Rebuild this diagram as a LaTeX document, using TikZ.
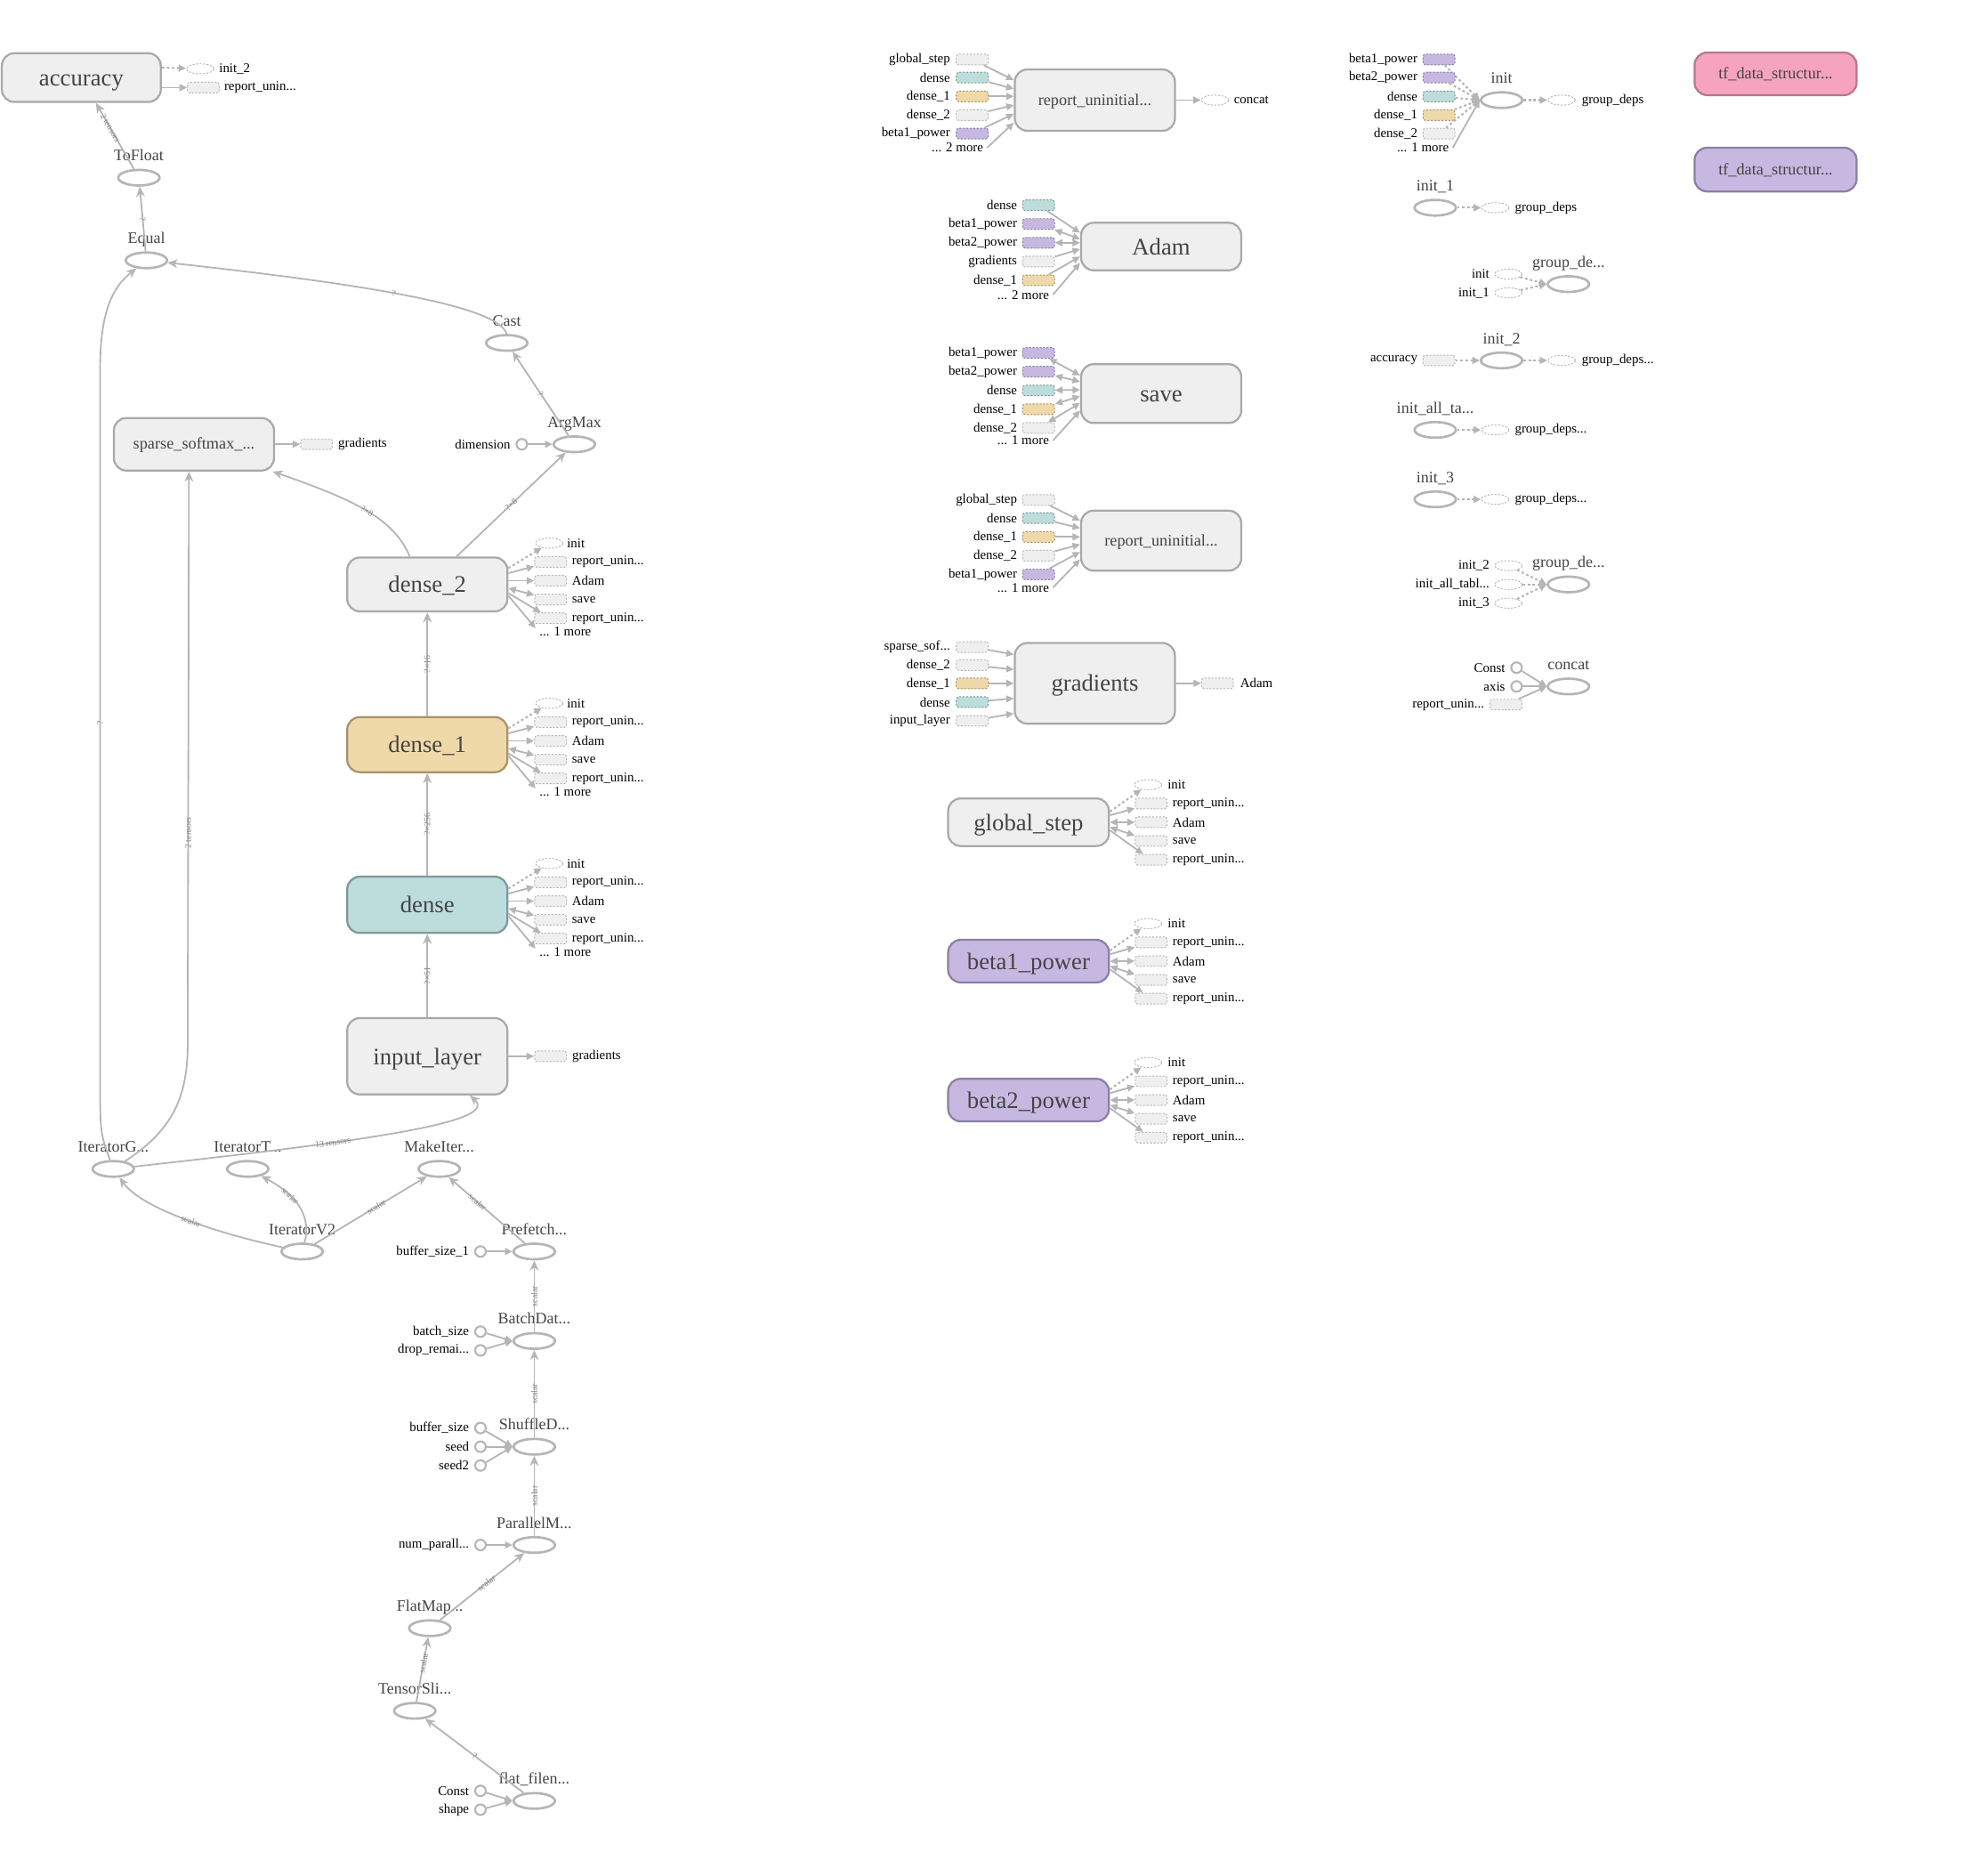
\documentclass[tikz,border=0pt]{standalone}
\usepackage{fontspec}
\setmainfont{Liberation Serif}
\usetikzlibrary{positioning,shapes.geometric,arrows.meta}

\definecolor{edgegrey}{HTML}{B5B5B5}
\definecolor{boxline}{HTML}{A9A9A9}
\definecolor{boxfill}{HTML}{EFEFEF}
\definecolor{labgrey}{HTML}{444444}
\definecolor{elabgrey}{HTML}{808080}
\definecolor{stubline}{HTML}{B9B9B9}
\definecolor{tealfill}{HTML}{BDDCDC}
\definecolor{tealline}{HTML}{7E9999}
\definecolor{tanfill}{HTML}{F0D9A9}
\definecolor{tanline}{HTML}{A7936D}
\definecolor{purpfill}{HTML}{C6B8E1}
\definecolor{purpline}{HTML}{8B80A3}
\definecolor{pinkfill}{HTML}{F5A3BE}
\definecolor{pinkline}{HTML}{B47A8C}

\newcommand{\threedots}{...}

\tikzset{
  bigbox/.style={draw=boxline, fill=boxfill, line width=1.6pt, rounded corners=10pt,
    minimum width=128pt, minimum height=42pt, inner sep=0pt, text=labgrey,
    font=\fontsize{19}{22}\selectfont, text height=17pt, text depth=4pt},
  midbox/.style={bigbox, font=\fontsize{13}{15}\selectfont, text height=11pt, text depth=3pt},
  opnode/.style={ellipse, draw=edgegrey, line width=1.9pt, fill=white,
    minimum width=33pt, minimum height=12.5pt, inner sep=0pt},
  oplab/.style={text=labgrey, font=\fontsize{12.8}{14}\selectfont,
    text height=9pt, text depth=3pt, inner sep=1pt},
  cnode/.style={circle, draw=edgegrey, line width=1.5pt, fill=white,
    minimum size=8.5pt, inner sep=0pt},
  gstub/.style={draw=stubline, fill=boxfill, dash pattern=on 1.6pt off 1.2pt,
    line width=0.7pt, rounded corners=2pt, minimum width=25.5pt,
    minimum height=8.5pt, inner sep=0pt},
  tstub/.style={gstub, draw=tealline, fill=tealfill},
  ystub/.style={gstub, draw=tanline, fill=tanfill},
  pstub/.style={gstub, draw=purpline, fill=purpfill},
  estub/.style={ellipse, draw=stubline, dash pattern=on 1.6pt off 1.2pt,
    line width=0.7pt, fill=white, minimum width=22pt, minimum height=8pt, inner sep=0pt},
  smlab/.style={font=\fontsize{10.6}{12}\selectfont, inner sep=0pt},
  morelab/.style={smlab, inner xsep=3pt},
  elab/.style={font=\fontsize{7}{8}\selectfont, text=elabgrey, inner sep=0.5pt, sloped},
  flow/.style={draw=edgegrey, line width=1.3pt, -{Stealth[length=8pt,width=7pt,inset=2.5pt]}},
  stubarr/.style={draw=edgegrey, line width=1.3pt, -{Triangle[length=6pt,width=5.5pt]}},
  botharr/.style={draw=edgegrey, line width=1.3pt,
    {Triangle[length=6pt,width=5.5pt]}-{Triangle[length=6pt,width=5.5pt]}},
  ctrlarr/.style={stubarr, dash pattern=on 2pt off 2pt, line width=1.5pt}
}

\begin{document}
\begin{tikzpicture}[x=1pt, y=-1pt]
\useasboundingbox (0,0) rectangle (1568,1499);

% accuracy branch
\node[bigbox, minimum width=127pt, minimum height=39pt] (accuracy) at (65,62) {accuracy};
\node[estub] (acc-init) at (160,55) {};
\node[smlab, anchor=west] (acc-initlab) at (175,55) {init\_2};
\node[gstub] (acc-rep) at (162.5,70) {};
\node[smlab, anchor=west] (acc-replab) at (179,70) {report\_unin...};
\draw[ctrlarr] ([yshift=8]accuracy.east) -- (acc-init);
\draw[stubarr] ([yshift=-8]accuracy.east) -- (acc-rep);

\node[opnode] (tofloat) at (111,142) {};
\node[oplab, above=2pt of tofloat] (tofloatlab) {ToFloat};
\node[opnode] (equal) at (117,208) {};
\node[oplab, above=2pt of equal] (equallab) {Equal};
\node[opnode] (cast) at (405,274) {};
\node[oplab, above=2pt of cast] (castlab) {Cast};
\node[opnode] (argmax) at (459,355) {};
\node[oplab, above=2pt of argmax] (argmaxlab) {ArgMax};
\node[cnode] (dimension) at (417,355) {};
\node[smlab, left=4pt of dimension] (dimensionlab) {dimension};

\node[midbox] (sparse) at (155,355) {sparse\_softmax\_...};
\node[gstub] (sparse-grad) at (253,355) {};
\node[smlab, right=4pt of sparse-grad] (sparse-gradlab) {gradients};

% layers
\node[bigbox, minimum height=43pt] (dtwo) at (341.5,467) {dense\_2};
\node[bigbox, draw=tanline, fill=tanfill, minimum height=44pt] (done) at (341.5,595) {dense\_1};
\node[bigbox, draw=tealline, fill=tealfill, minimum height=45pt] (dzero) at (341.5,723) {dense};
\node[bigbox, minimum height=61pt] (input) at (341.5,844) {input\_layer};
\node[gstub] (input-grad) at (440,844) {};
\node[smlab, right=4pt of input-grad] (input-gradlab) {gradients};

\foreach \v/\y in {dtwo/467, done/595, dzero/723}{
  \node[estub] (\v-init) at (439,\y-33) {};
  \node[smlab, anchor=west] (\v-initlab) at (453,\y-33) {init};
  \node[gstub] (\v-repa) at (440,\y-18) {};
  \node[smlab, anchor=west] (\v-repalab) at (457,\y-18) {report\_unin\threedots};
  \node[gstub] (\v-adam) at (440,\y-3) {};
  \node[smlab, anchor=west] (\v-adamlab) at (457,\y-3) {Adam};
  \node[gstub] (\v-save) at (440,\y+12) {};
  \node[smlab, anchor=west] (\v-savelab) at (457,\y+12) {save};
  \node[gstub] (\v-repb) at (440,\y+27) {};
  \node[smlab, anchor=west] (\v-repblab) at (457,\y+27) {report\_unin\threedots};
  \node[morelab, anchor=west] (\v-more) at (428,\y+38) {\threedots{} 1 more};
  \draw[ctrlarr] ([yshift=13]\v.east) -- (\v-init);
  \draw[stubarr] ([yshift=9]\v.east) -- (\v-repa);
  \draw[stubarr] ([yshift=3]\v.east) -- (\v-adam);
  \draw[botharr] ([yshift=-3]\v.east) -- (\v-save);
  \draw[stubarr] ([yshift=-7]\v.east) -- (\v-repb);
  \draw[stubarr] ([yshift=-9]\v.east) -- ([yshift=3]\v-more.west);
}

\draw[flow] (tofloat) -- node[elab, pos=0.62] {2 tensors} (accuracy);
\draw[flow] (equal) -- node[elab] {?} (tofloat);
\draw[flow] (cast.north) .. controls (398,245) and (300,228) .. node[elab, pos=0.55] {?} (equal);
\draw[flow] (argmax) -- node[elab] {?} (cast);
\draw[stubarr] (dimension) -- (argmax);
\draw[flow] (dtwo) -- node[elab] {?×8} (argmax);
\draw[flow] ([xshift=-14]dtwo.north) .. controls (315,415) and (285,400) .. node[elab] {?×8} (sparse);
\draw[flow] (done) -- node[elab] {?×16} (dtwo);
\draw[flow] (dzero) -- node[elab] {?×256} (done);
\draw[flow] (input) -- node[elab] {?×51} (dzero);
\draw[stubarr] (sparse) -- (sparse-grad);
\draw[stubarr] (input) -- (input-grad);

% input pipeline
\node[opnode] (itget) at (90.5,934) {};
\node[oplab, above=2pt of itget] (itgetlab) {IteratorG...};
\node[opnode] (itto) at (198,934) {};
\node[oplab, above=2pt of itto] (ittolab) {IteratorT...};
\node[opnode] (makeit) at (351,934) {};
\node[oplab, above=2pt of makeit] (makeitlab) {MakeIter...};
\node[opnode] (itvtwo) at (241.5,1000) {};
\node[oplab, above=2pt of itvtwo] (itvtwolab) {IteratorV2};
\node[opnode] (prefetch) at (427,1000) {};
\node[oplab, above=2pt of prefetch] (prefetchlab) {Prefetch...};
\node[cnode] (bufone) at (384,1000) {};
\node[smlab, left=4pt of bufone] (bufonelab) {buffer\_size\_1};
\node[opnode] (batch) at (427,1071.5) {};
\node[oplab, above=2pt of batch] (batchlab) {BatchDat...};
\node[cnode] (batchsize) at (384,1064) {};
\node[smlab, left=4pt of batchsize] (batchsizelab) {batch\_size};
\node[cnode] (dropr) at (384,1079) {};
\node[smlab, left=4pt of dropr] (droprlab) {drop\_remai...};
\node[opnode] (shuffle) at (427,1156) {};
\node[oplab, above=2pt of shuffle] (shufflelab) {ShuffleD...};
\node[cnode] (bufsize) at (384,1141) {};
\node[smlab, left=4pt of bufsize] (bufsizelab) {buffer\_size};
\node[cnode] (seed) at (384,1156) {};
\node[smlab, left=4pt of seed] (seedlab) {seed};
\node[cnode] (seedtwo) at (384,1171) {};
\node[smlab, left=4pt of seedtwo] (seedtwolab) {seed2};
\node[opnode] (parallel) at (427,1234.5) {};
\node[oplab, above=2pt of parallel] (parallellab) {ParallelM...};
\node[cnode] (numpar) at (384,1234.5) {};
\node[smlab, left=4pt of numpar] (numparlab) {num\_parall...};
\node[opnode] (flatmap) at (343.5,1301) {};
\node[oplab, above=2pt of flatmap] (flatmaplab) {FlatMap...};
\node[opnode] (tslice) at (331.5,1367) {};
\node[oplab, above=2pt of tslice] (tslicelab) {TensorSli...};
\node[opnode] (flatfile) at (427,1439) {};
\node[oplab, above=2pt of flatfile] (flatfilelab) {flat\_filen...};
\node[cnode] (fconst) at (384,1431) {};
\node[smlab, left=4pt of fconst] (fconstlab) {Const};
\node[cnode] (fshape) at (384,1446) {};
\node[smlab, left=4pt of fshape] (fshapelab) {shape};

\draw[flow] (itget) .. controls (80,905) .. (80,860) -- node[elab] {?} (80,295) .. controls (80,245) and (92,228) .. (equal);
\draw[flow] (itget) .. controls (135,905) and (150,880) .. (150,835) -- node[elab, pos=0.37] {2 tensors} ([xshift=-4]sparse.south);
\draw[flow] (itget) .. controls (290,912) and (400,897) .. node[elab, pos=0.34] {13 tensors} ([xshift=34]input.south);
\draw[flow] (itvtwo) .. controls (185,988) and (115,968) .. node[elab] {scalar} (itget);
\draw[flow] (itvtwo) .. controls (250,968) and (232,952) .. node[elab, pos=0.62] {scalar} (itto);
\draw[flow] (itvtwo) -- node[elab, pos=0.55] {scalar} (makeit);
\draw[flow] (prefetch) -- node[elab, pos=0.62] {scalar} (makeit);
\draw[flow] (batch) -- node[elab] {scalar} (prefetch);
\draw[flow] (shuffle) -- node[elab] {scalar} (batch);
\draw[flow] (parallel) -- node[elab] {scalar} (shuffle);
\draw[flow] (flatmap) -- node[elab, pos=0.55] {scalar} (parallel);
\draw[flow] (tslice) -- node[elab, pos=0.6] {scalar} (flatmap);
\draw[flow] (flatfile) -- node[elab] {?} (tslice);
\draw[stubarr] (bufone) -- (prefetch);
\draw[stubarr] (batchsize) -- (batch.west);
\draw[stubarr] (dropr) -- (batch.west);
\draw[stubarr] (bufsize) -- (shuffle.west);
\draw[stubarr] (seed) -- (shuffle.west);
\draw[stubarr] (seedtwo) -- (shuffle.west);
\draw[stubarr] (numpar) -- (parallel);
\draw[stubarr] (fconst) -- (flatfile.west);
\draw[stubarr] (fshape) -- (flatfile.west);

% middle column
\node[midbox, minimum height=49pt] (ruone) at (875,80) {report\_uninitial...};
\foreach \k/\lab/\st/\y/\dy in {a/global\_step/gstub/47.5/16, b/dense/tstub/62/9, c/dense\_1/ystub/77/3, d/dense\_2/gstub/92/-4, e/beta1\_power/pstub/106.7/-11}{
  \node[\st] (ruone-\k) at (777,\y) {};
  \node[smlab, anchor=east] (ruone-\k-lab) at (759.5,\y) {\lab};
  \draw[stubarr] (ruone-\k) -- ([yshift=\dy]ruone.west);
}
\node[morelab, anchor=east] (ruone-more) at (789,118) {... 2 more};
\draw[stubarr] (ruone-more.east) -- ([yshift=-18]ruone.west);
\node[estub] (ruone-concat) at (971,80) {};
\node[smlab, anchor=west] (ruone-concatlab) at (986,80) {concat};
\draw[stubarr] (ruone) -- (ruone-concat);

\node[bigbox, minimum height=38pt] (adam) at (928,197) {Adam};
\foreach \k/\lab/\st/\y/\dy/\ar in {a/dense/tstub/164/11/stubarr, b/beta1\_power/pstub/179/6/botharr, c/beta2\_power/pstub/194/3/botharr, d/gradients/gstub/209/-2/stubarr, e/dense\_1/ystub/224/-8/stubarr}{
  \node[\st] (adam-\k) at (830,\y) {};
  \node[smlab, anchor=east] (adam-\k-lab) at (813,\y) {\lab};
  \draw[\ar] (adam-\k) -- ([yshift=\dy]adam.west);
}
\node[morelab, anchor=east] (adam-more) at (841.5,235.5) {... 2 more};
\draw[stubarr] (adam-more.east) -- ([yshift=-13]adam.west);

\node[bigbox, minimum height=47pt] (save) at (928,314.5) {save};
\foreach \k/\lab/\st/\y/\dy in {a/beta1\_power/pstub/282/14.5, b/beta2\_power/pstub/297/9.5, c/dense/tstub/312/3, d/dense\_1/ystub/327/-2, e/dense\_2/gstub/342/-7.5}{
  \node[\st] (save-\k) at (830,\y) {};
  \node[smlab, anchor=east] (save-\k-lab) at (813,\y) {\lab};
  \draw[botharr] (save-\k) -- ([yshift=\dy]save.west);
}
\node[morelab, anchor=east] (save-more) at (841.5,352) {... 1 more};
\draw[stubarr] (save-more.east) -- ([yshift=-13.5]save.west);

\node[midbox, minimum height=48pt] (rutwo) at (928,432) {report\_uninitial...};
\foreach \k/\lab/\st/\y/\dy in {a/global\_step/gstub/399.5/16, b/dense/tstub/414/10, c/dense\_1/ystub/429/3, d/dense\_2/gstub/444/-3, e/beta1\_power/pstub/459/-9}{
  \node[\st] (rutwo-\k) at (830,\y) {};
  \node[smlab, anchor=east] (rutwo-\k-lab) at (813,\y) {\lab};
  \draw[stubarr] (rutwo-\k) -- ([yshift=\dy]rutwo.west);
}
\node[morelab, anchor=east] (rutwo-more) at (841.5,469.5) {... 1 more};
\draw[stubarr] (rutwo-more.east) -- ([yshift=-15]rutwo.west);

\node[bigbox, minimum height=64.5pt] (grads) at (875,546) {gradients};
\foreach \k/\lab/\st/\y/\dy in {a/sparse\_sof\threedots/gstub/517/23, b/dense\_2/gstub/531.5/11, c/dense\_1/ystub/546/0, d/dense/tstub/561/-12, e/input\_layer/gstub/576/-24}{
  \node[\st] (grads-\k) at (777,\y) {};
  \node[smlab, anchor=east] (grads-\k-lab) at (759.5,\y) {\lab};
  \draw[stubarr] (grads-\k) -- ([yshift=\dy]grads.west);
}
\node[gstub] (grads-adam) at (973,546) {};
\node[smlab, anchor=west] (grads-adamlab) at (991,546) {Adam};
\draw[stubarr] (grads) -- (grads-adam);

% variables
\node[bigbox, minimum width=128.5pt, minimum height=38pt] (gstep) at (822,657) {global\_step};
\node[bigbox, draw=purpline, fill=purpfill, minimum width=128.5pt, minimum height=34pt] (bone) at (822,768) {beta1\_power};
\node[bigbox, draw=purpline, fill=purpfill, minimum width=128.5pt, minimum height=34pt] (btwo) at (822,879) {beta2\_power};
\foreach \v/\y in {gstep/657, bone/768, btwo/879}{
  \node[estub] (\v-init) at (917.5,\y-30) {};
  \node[smlab, anchor=west] (\v-initlab) at (933,\y-30) {init};
  \node[gstub] (\v-repa) at (920,\y-15) {};
  \node[smlab, anchor=west] (\v-repalab) at (937,\y-15) {report\_unin\threedots};
  \node[gstub] (\v-adam) at (920,\y) {};
  \node[smlab, anchor=west] (\v-adamlab) at (937,\y) {Adam};
  \node[gstub] (\v-save) at (920,\y+15) {};
  \node[smlab, anchor=west] (\v-savelab) at (937,\y+15) {save};
  \node[gstub] (\v-repb) at (920,\y+30) {};
  \node[smlab, anchor=west] (\v-repblab) at (937,\y+30) {report\_unin\threedots};
  \draw[ctrlarr] ([yshift=8.5]\v.east) -- (\v-init);
  \draw[stubarr] ([yshift=5.5]\v.east) -- (\v-repa);
  \draw[botharr] (\v.east) -- (\v-adam);
  \draw[botharr] ([yshift=-4]\v.east) -- (\v-save);
  \draw[stubarr] ([yshift=-6.5]\v.east) -- (\v-repb);
}

% right column
\node[opnode] (init) at (1200,80) {};
\node[oplab, above=2pt of init] (initlab) {init};
\foreach \k/\lab/\st/\y in {a/beta1\_power/pstub/47.5, b/beta2\_power/pstub/62, c/dense/tstub/77, d/dense\_1/ystub/92, e/dense\_2/gstub/106.7}{
  \node[\st] (init-\k) at (1150,\y) {};
  \node[smlab, anchor=east] (init-\k-lab) at (1133,\y) {\lab};
  \draw[ctrlarr] (init-\k) -- (init.west);
}
\node[morelab, anchor=east] (init-more) at (1161,118) {... 1 more};
\draw[stubarr] (init-more.east) -- (init.west);
\node[estub] (init-gd) at (1248,80) {};
\node[smlab, anchor=west] (init-gdlab) at (1264,80) {group\_deps};
\draw[ctrlarr] (init) -- (init-gd);

\node[opnode] (initone) at (1147,166) {};
\node[oplab, above=2pt of initone] (initonelab) {init\_1};
\node[estub] (initone-gd) at (1195,166) {};
\node[smlab, anchor=west] (initone-gdlab) at (1210.5,166) {group\_deps};
\draw[ctrlarr] (initone) -- (initone-gd);

\node[opnode] (gdone) at (1253.5,227) {};
\node[oplab, above=2pt of gdone] (gdonelab) {group\_de...};
\node[estub] (gdone-a) at (1205.5,219) {};
\node[smlab, anchor=east] (gdone-alab) at (1190.5,219) {init};
\node[estub] (gdone-b) at (1205.5,234) {};
\node[smlab, anchor=east] (gdone-blab) at (1190.5,234) {init\_1};
\draw[ctrlarr] (gdone-a) -- (gdone.west);
\draw[ctrlarr] (gdone-b) -- (gdone.west);

\node[opnode] (inittwo) at (1200,288) {};
\node[oplab, above=2pt of inittwo] (inittwolab) {init\_2};
\node[gstub] (inittwo-acc) at (1150,288) {};
\node[smlab, anchor=east] (inittwo-acclab) at (1133,288) {accuracy};
\draw[ctrlarr] (inittwo-acc) -- (inittwo);
\node[estub] (inittwo-gd) at (1248,288) {};
\node[smlab, anchor=west] (inittwo-gdlab) at (1264,288) {group\_deps...};
\draw[ctrlarr] (inittwo) -- (inittwo-gd);

\node[opnode] (initall) at (1147,343.5) {};
\node[oplab, above=2pt of initall] (initalllab) {init\_all\_ta...};
\node[estub] (initall-gd) at (1195,343.5) {};
\node[smlab, anchor=west] (initall-gdlab) at (1210.5,343.5) {group\_deps...};
\draw[ctrlarr] (initall) -- (initall-gd);

\node[opnode] (initthree) at (1147,399) {};
\node[oplab, above=2pt of initthree] (initthreelab) {init\_3};
\node[estub] (initthree-gd) at (1195,399) {};
\node[smlab, anchor=west] (initthree-gdlab) at (1210.5,399) {group\_deps...};
\draw[ctrlarr] (initthree) -- (initthree-gd);

\node[opnode] (gdtwo) at (1253.5,467) {};
\node[oplab, above=2pt of gdtwo] (gdtwolab) {group\_de...};
\foreach \k/\lab/\y in {a/init\_2/452, b/init\_all\_tabl\threedots/467, c/init\_3/482}{
  \node[estub] (gdtwo-\k) at (1205.5,\y) {};
  \node[smlab, anchor=east] (gdtwo-\k-lab) at (1190.5,\y) {\lab};
  \draw[ctrlarr] (gdtwo-\k) -- (gdtwo.west);
}

\node[opnode] (concat) at (1253.5,548.5) {};
\node[oplab, above=2pt of concat] (concatlab) {concat};
\node[cnode] (cconst) at (1212,533.5) {};
\node[smlab, left=4pt of cconst] (cconstlab) {Const};
\node[cnode] (caxis) at (1212,548.5) {};
\node[smlab, left=4pt of caxis] (caxislab) {axis};
\node[gstub] (crep) at (1203.5,563) {};
\node[smlab, left=4pt of crep] (creplab) {report\_unin...};
\draw[stubarr] (cconst) -- (concat.west);
\draw[stubarr] (caxis) -- (concat.west);
\draw[stubarr] (crep) -- (concat.west);

% far right
\node[midbox, draw=pinkline, fill=pinkfill, minimum width=129.5pt, minimum height=34pt] (tfpink) at (1419,59) {tf\_data\_structur...};
\node[midbox, draw=purpline, fill=purpfill, minimum width=129.5pt, minimum height=35pt] (tfpurp) at (1419,135.5) {tf\_data\_structur...};
\end{tikzpicture}
\end{document}
